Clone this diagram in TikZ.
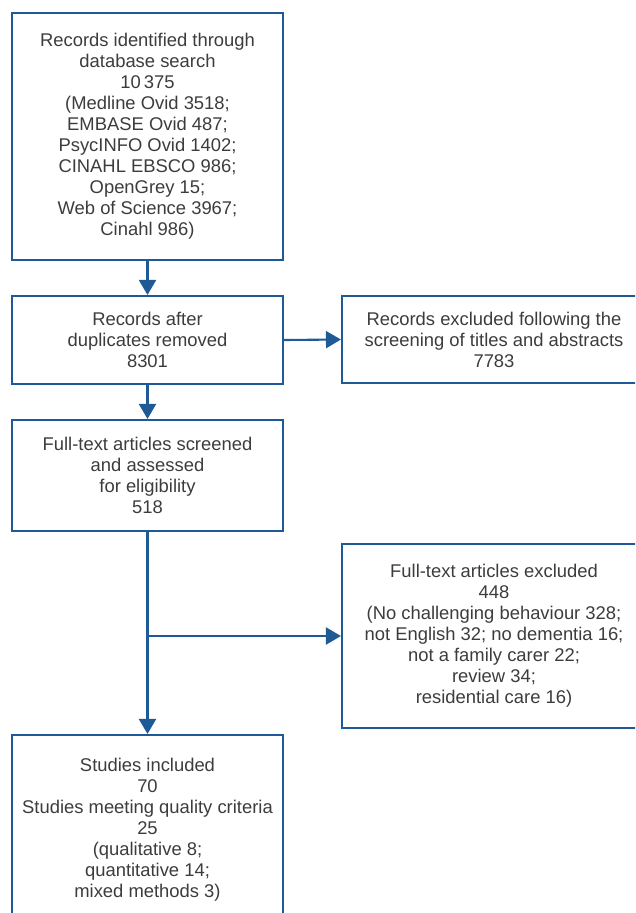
\documentclass[tikz,border=0pt]{standalone}
\usepackage{fontspec}
\setmainfont{Liberation Sans}
\usetikzlibrary{arrows.meta}
\definecolor{lineblue}{HTML}{1D5A96}
\definecolor{txtgray}{HTML}{3C3C3C}
\begin{document}
\begin{tikzpicture}[x=1pt,y=-1pt,
  box/.style={draw=lineblue, line width=2.1pt, inner sep=0pt, align=center,
    text=txtgray, font=\fontsize{18.4}{21}\selectfont},
  conn/.style={draw=lineblue, line width=2.1pt, -{Triangle[width=17pt,length=15pt]}}]
\useasboundingbox (0,0) rectangle (635,913);
\clip (0,0) rectangle (635,913);
\node[box, minimum width=271pt, minimum height=247pt] (b1) at (147.5,136.5)
  {Records identified through\\database search\\10\,375\\(Medline Ovid 3518;\\EMBASE Ovid 487;\\PsycINFO Ovid 1402;\\CINAHL EBSCO 986;\\OpenGrey 15;\\Web of Science 3967;\\Cinahl 986)};
\node[box, minimum width=271pt, minimum height=88pt] (b2) at (147.5,340)
  {Records after\\duplicates removed\\8301};
\node[box, minimum width=304pt, minimum height=87pt] (b3) at (494,339.5)
  {Records excluded following the\\screening of titles and abstracts\\7783};
\node[box, minimum width=271pt, minimum height=111pt] (b4) at (147.5,475.5)
  {Full-text articles screened\\and assessed\\for eligibility\\518};
\node[box, minimum width=304pt, minimum height=184pt] (b5) at (494,636)
  {Full-text articles excluded\\448\\(No challenging behaviour 328;\\not English 32; no dementia 16;\\not a family carer 22;\\review 34;\\residential care 16)};
\node[box, minimum width=271pt, minimum height=190pt] (b6) at (147.5,830)
  {Studies included\\70\\Studies meeting quality criteria\\25\\(qualitative 8;\\quantitative 14;\\mixed methods 3)};
\coordinate (branch) at (b4.south |- b5.west);
\draw[conn] (b1.south) -- (b2.north);
\draw[conn] (b2.east) -- (b3.west);
\draw[conn] (b2.south) -- (b4.north);
\draw[conn] (b4.south) -- (b6.north);
\draw[conn] (branch) -- (b5.west);
\end{tikzpicture}
\end{document}
